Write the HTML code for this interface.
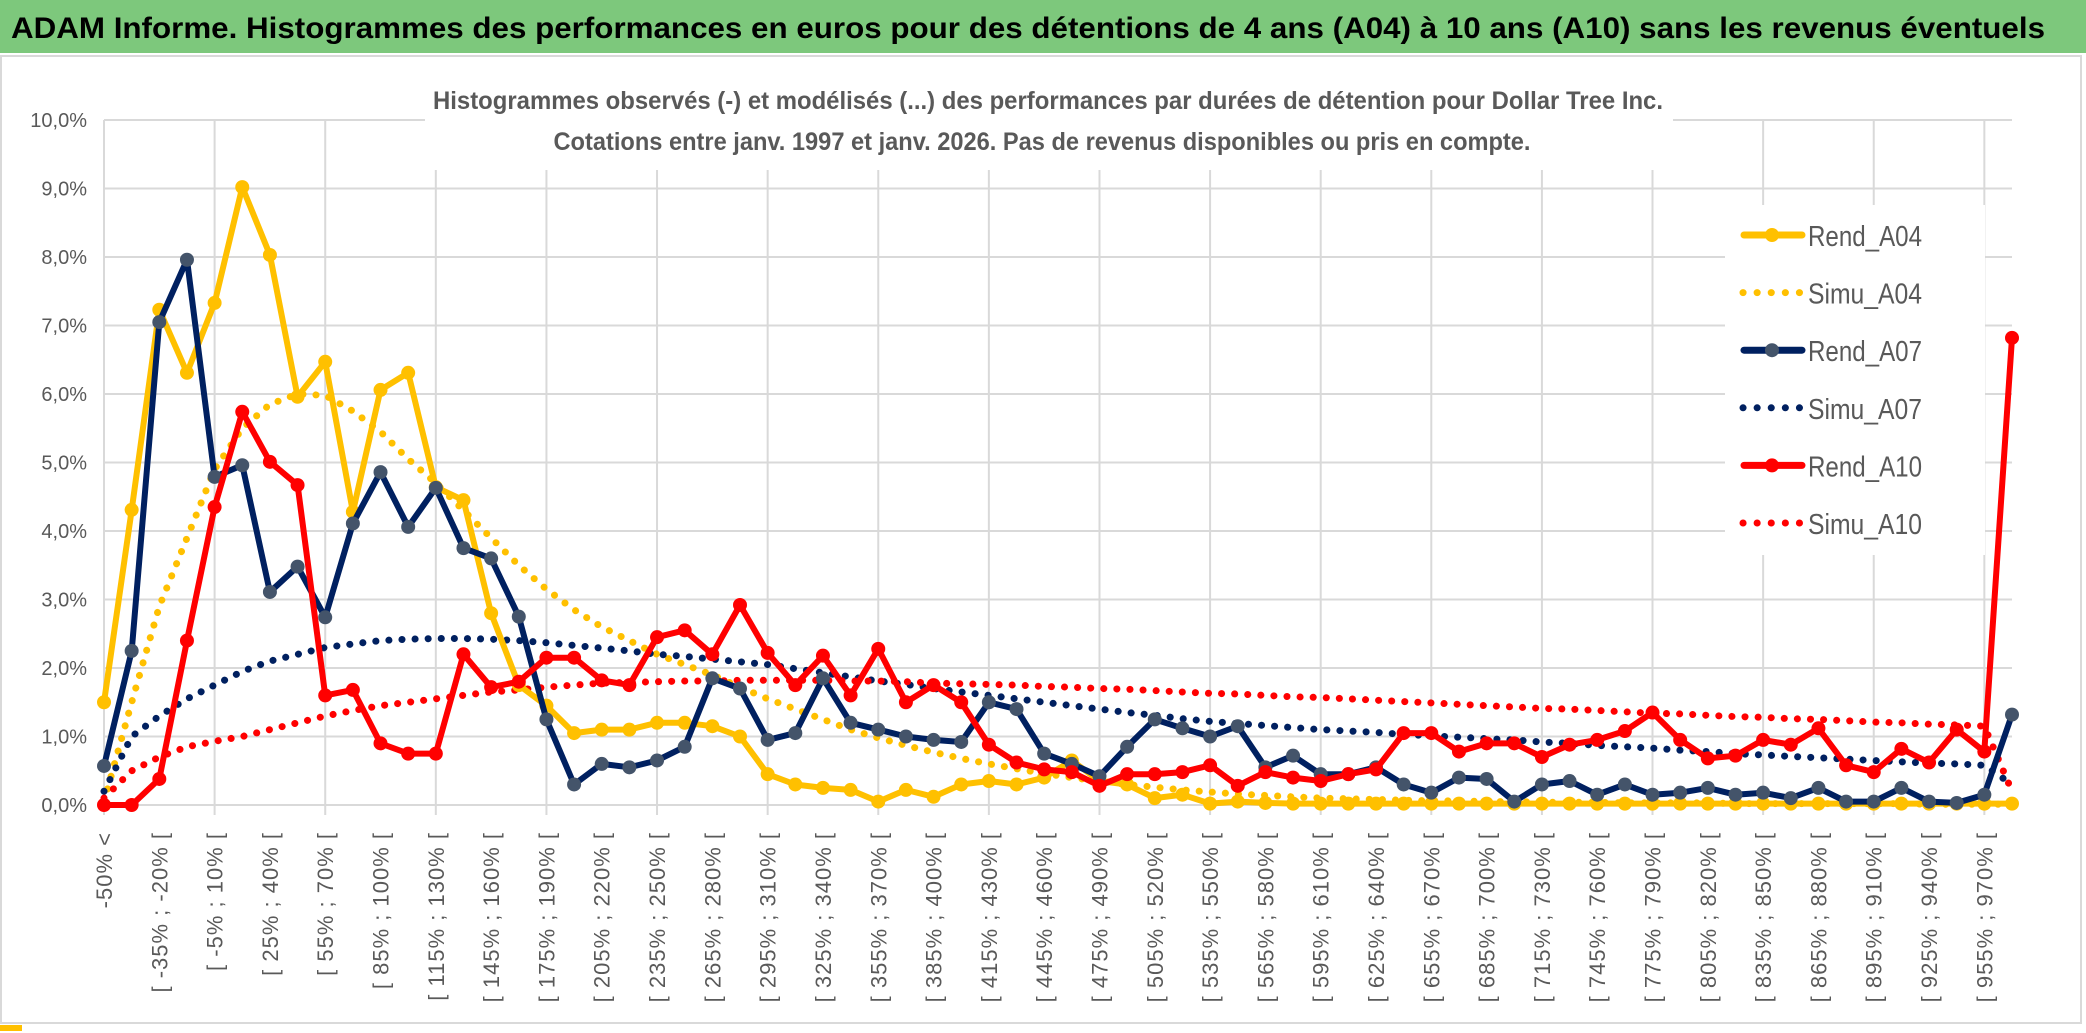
<!DOCTYPE html>
<html><head><meta charset="utf-8"><style>
html,body{margin:0;padding:0;background:#fff;}
svg{display:block;font-family:"Liberation Sans",sans-serif;}
</style></head><body>
<svg id="chart" width="2086" height="1033" viewBox="0 0 2086 1033" xmlns="http://www.w3.org/2000/svg">
<rect x="0" y="0" width="2086" height="1033" fill="#fff"/>
<rect x="0" y="0" width="2086" height="53" fill="#7dc87c"/>
<text x="11" y="38" font-size="30" font-weight="bold" fill="#000" textLength="2034" lengthAdjust="spacingAndGlyphs">ADAM Informe. Histogrammes des performances en euros pour des détentions de 4 ans (A04) à 10 ans (A10) sans les revenus éventuels</text>
<rect x="1" y="56" width="2080" height="967" fill="none" stroke="#d9d9d9" stroke-width="2"/>
<g id="grid"></g>
<g id="yaxis"></g>
<g id="xaxis"></g>
<rect x="425" y="78" width="1248" height="92" fill="#fff"/>
<text x="1048" y="109" font-size="25" font-weight="bold" fill="#595959" text-anchor="middle" textLength="1230" lengthAdjust="spacingAndGlyphs">Histogrammes observés (-) et modélisés (...) des performances par durées de détention pour Dollar Tree Inc.</text>
<text x="1042" y="150" font-size="25" font-weight="bold" fill="#595959" text-anchor="middle" textLength="977" lengthAdjust="spacingAndGlyphs">Cotations entre janv. 1997 et janv. 2026. Pas de revenus disponibles ou pris en compte.</text>
<rect x="1725" y="205" width="260" height="350" fill="#fff"/>
<g id="series"></g>
<g id="legend"></g>
<rect x="0" y="1025" width="22" height="6" fill="#ffc000"/>
</svg>
<script>
const rendA04 = [1.5,4.31,7.23,6.31,7.33,9.02,8.03,5.96,6.47,4.28,
 6.06,6.31,4.64,4.45,2.8,1.75,1.45,1.05,1.1,1.1,
 1.2,1.2,1.15,1.0,0.45,0.3,0.25,0.22,0.05,0.22,
 0.12,0.3,0.35,0.3,0.4,0.65,0.35,0.3,0.1,0.15,
 0.02,0.05,0.03,0.02,0.02,0.02,0.02,0.02,0.02,0.02,
 0.02,0.02,0.02,0.02,0.02,0.02,0.02,0.02,0.02,0.02,
 0.02,0.02,0.02,0.02,0.02,0.02,0.02,0.02,0.02,0.02];
const simuA04 = [0.05,1.5,2.9,3.9,4.9,5.5,5.85,6.0,5.98,5.75,
 5.45,5.05,4.7,4.3,3.9,3.5,3.15,2.85,2.6,2.4,
 2.2,2.05,1.9,1.72,1.55,1.4,1.25,1.1,0.98,0.87,
 0.77,0.68,0.6,0.53,0.46,0.4,0.35,0.3,0.26,0.22,
 0.19,0.16,0.14,0.12,0.1,0.09,0.08,0.07,0.06,0.06,
 0.05,0.05,0.04,0.04,0.04,0.03,0.03,0.03,0.03,0.02,
 0.02,0.02,0.02,0.02,0.02,0.02,0.01,0.01,0.01,0.01];
const rendA07 = [0.57,2.25,7.05,7.96,4.79,4.96,3.11,3.48,2.74,4.11,
 4.86,4.06,4.63,3.75,3.6,2.75,1.25,0.3,0.6,0.55,
 0.65,0.85,1.85,1.7,0.95,1.05,1.85,1.2,1.1,1.0,
 0.95,0.92,1.5,1.4,0.75,0.6,0.42,0.85,1.25,1.12,
 1.0,1.15,0.55,0.72,0.45,0.45,0.55,0.3,0.18,0.4,
 0.38,0.05,0.3,0.35,0.15,0.3,0.15,0.18,0.25,0.15,
 0.18,0.1,0.25,0.05,0.05,0.25,0.05,0.03,0.15,1.32];
const simuA07 = [0.2,1.0,1.3,1.55,1.75,1.95,2.1,2.2,2.3,2.35,
 2.4,2.42,2.43,2.43,2.42,2.4,2.37,2.33,2.29,2.25,
 2.2,2.17,2.13,2.09,2.05,1.99,1.93,1.87,1.81,1.76,
 1.7,1.65,1.6,1.55,1.5,1.45,1.4,1.35,1.31,1.26,
 1.22,1.19,1.16,1.13,1.1,1.08,1.06,1.03,1.01,0.99,
 0.97,0.95,0.92,0.9,0.87,0.85,0.83,0.8,0.78,0.75,
 0.73,0.71,0.69,0.67,0.65,0.63,0.61,0.6,0.58,0.3];
const rendA10 = [0,0,0.38,2.4,4.35,5.74,5.01,4.67,1.6,1.68,
 0.9,0.75,0.75,2.2,1.72,1.8,2.15,2.15,1.82,1.75,
 2.45,2.55,2.2,2.92,2.22,1.75,2.18,1.6,2.28,1.5,
 1.75,1.5,0.88,0.62,0.52,0.48,0.28,0.45,0.45,0.48,
 0.58,0.28,0.48,0.4,0.35,0.45,0.52,1.05,1.05,0.78,
 0.9,0.9,0.7,0.88,0.95,1.08,1.35,0.95,0.68,0.72,
 0.95,0.88,1.12,0.58,0.48,0.82,0.62,1.1,0.78,6.82];
const simuA10 = [0.1,0.5,0.7,0.85,0.93,1.0,1.1,1.2,1.3,1.38,
 1.45,1.5,1.55,1.6,1.65,1.68,1.72,1.75,1.78,1.79,
 1.8,1.81,1.81,1.82,1.82,1.82,1.82,1.81,1.81,1.8,
 1.78,1.77,1.76,1.75,1.73,1.72,1.7,1.69,1.67,1.65,
 1.63,1.62,1.6,1.58,1.57,1.55,1.53,1.51,1.49,1.47,
 1.45,1.43,1.41,1.4,1.38,1.36,1.34,1.33,1.31,1.29,
 1.28,1.26,1.25,1.23,1.21,1.2,1.18,1.17,1.15,0.2];
const yTicks = [0,1,2,3,4,5,6,7,8,9,10];
const yTickLabels = ["0,0%","1,0%","2,0%","3,0%","4,0%","5,0%","6,0%","7,0%","8,0%","9,0%","10,0%"];
const categories = ["-50% <"];
for (let k = 1; k < 70; k++) { const lo = -50 + 15*(k-1); categories.push("[ " + lo + "% ; " + (lo+15) + "% ["); }

const NS = "http://www.w3.org/2000/svg";
const X0 = 104, X1 = 2012, Y0 = 805, Y10 = 120;
const N = categories.length;
function xs(i){ return X0 + i*(X1-X0)/(N-1); }
function ys(v){ return Y0 - v*(Y0-Y10)/10; }
function mk(tag, attrs, parent){ const e = document.createElementNS(NS, tag); for (const k in attrs) e.setAttribute(k, attrs[k]); parent.appendChild(e); return e; }

const grid = document.getElementById('grid');
yTicks.forEach((t) => {
  const l = mk('line', {x1:X0, x2:X1, y1:ys(t), y2:ys(t), stroke:'#d9d9d9', 'stroke-width':2}, grid);
  
  
});
for (let i = 0; i < N; i += 4) {
  const l = mk('line', {x1:xs(i), x2:xs(i), y1:Y10, y2:Y0+10, stroke:'#d9d9d9', 'stroke-width':2}, grid);
  
  
}
const yax = document.getElementById('yaxis');
yTicks.forEach((t, k) => {
  const tx = mk('text', {x:87, y:ys(t)+7, 'font-size':20, fill:'#595959', 'text-anchor':'end'}, yax);
  tx.textContent = yTickLabels[k];
  
  
});
const xax = document.getElementById('xaxis');
for (let i = 0; i < N; i += 2) {
  const x = xs(i) + 8, y = 832;
  const tx = mk('text', {x:x, y:y, 'font-size':22, 'letter-spacing':1, fill:'#595959', 'text-anchor':'end', transform:'rotate(-90 '+x+' '+y+')'}, xax);
  tx.textContent = categories[i];
  
  
}

const ser = document.getElementById('series');
function pts(arr){ return arr.map((v,i)=> xs(i).toFixed(1)+','+ys(v).toFixed(1)).join(' '); }
function dotted(arr, color, name){
  const p = mk('polyline', {points:pts(arr), fill:'none', stroke:color, 'stroke-width':7, 'stroke-linecap':'round', 'stroke-dasharray':'0.1 13'}, ser);
  
  
}
function solid(arr, color, mcolor, name){
  const g = mk('g', {}, ser);
  
  
  mk('polyline', {points:pts(arr), fill:'none', stroke:color, 'stroke-width':6, 'stroke-linejoin':'round'}, g);
  arr.forEach((v,i)=>{
    const c = mk('circle', {cx:xs(i), cy:ys(v), r:7, fill:mcolor}, g);
    
    
  });
}
dotted(simuA04, '#ffc000', 'simu-a04-line');
dotted(simuA07, '#002060', 'simu-a07-line');
dotted(simuA10, '#ff0000', 'simu-a10-line');
solid(rendA04, '#ffc000', '#ffc000', 'rend-a04-line');
solid(rendA07, '#002060', '#44546a', 'rend-a07-line');
solid(rendA10, '#ff0000', '#ff0000', 'rend-a10-line');

const leg = document.getElementById('legend');
const legendItems = [
  ['Rend_A04','#ffc000','#ffc000',false],
  ['Simu_A04','#ffc000',null,true],
  ['Rend_A07','#002060','#44546a',false],
  ['Simu_A07','#002060',null,true],
  ['Rend_A10','#ff0000','#ff0000',false],
  ['Simu_A10','#ff0000',null,true]
];
legendItems.forEach((it,k)=>{
  const cy = 235 + k*57.6;
  const g = mk('g', {}, leg);
  
  
  if (it[3]) {
    mk('line', {x1:1743, x2:1802, y1:cy, y2:cy, stroke:it[1], 'stroke-width':7, 'stroke-linecap':'round', 'stroke-dasharray':'0.1 14'}, g);
  } else {
    mk('line', {x1:1744, x2:1802, y1:cy, y2:cy, stroke:it[1], 'stroke-width':7, 'stroke-linecap':'round'}, g);
    mk('circle', {cx:1772, cy:cy, r:7, fill:it[2]}, g);
  }
  const t = mk('text', {x:1808, y:cy+11, 'font-size':29, fill:'#595959', textLength:114, lengthAdjust:'spacingAndGlyphs'}, g);
  t.textContent = it[0];
});
</script>
</body></html>
